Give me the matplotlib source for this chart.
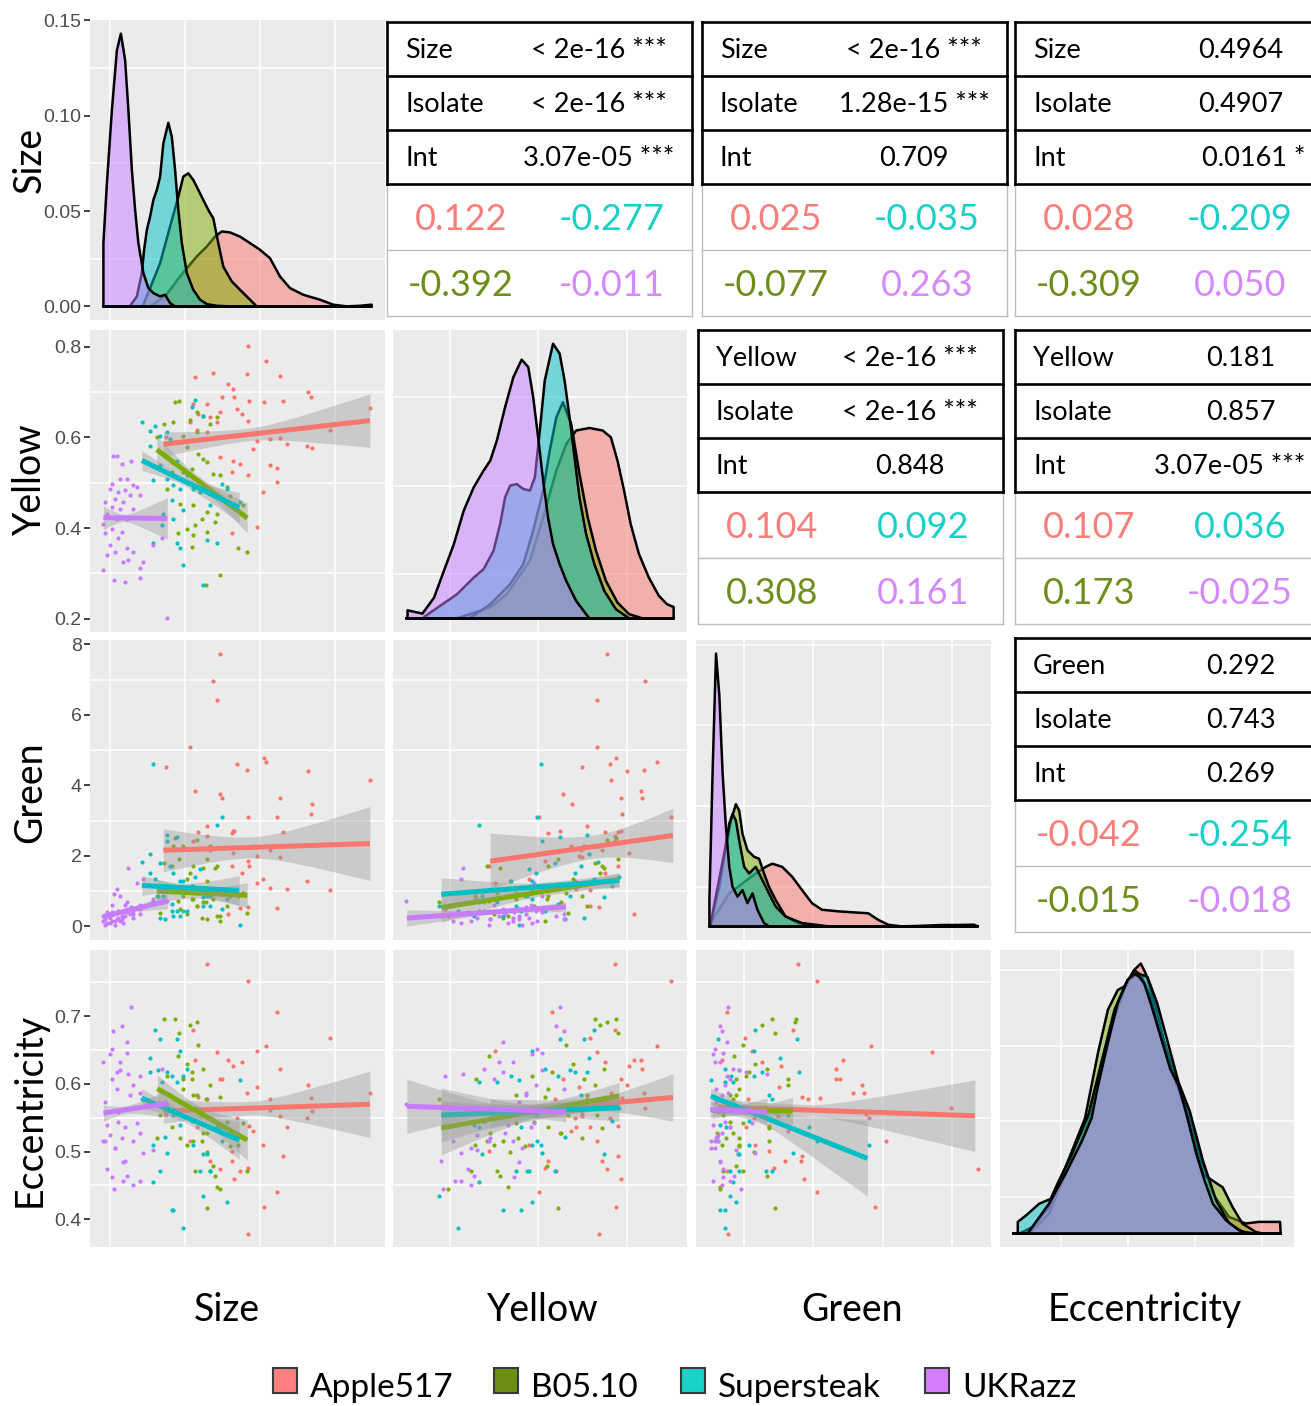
import numpy as np
import matplotlib
matplotlib.use("Agg")
import matplotlib.pyplot as plt
from matplotlib.patches import Rectangle
from matplotlib.colors import to_rgba

W, H = 1311, 1406
FONT = ["Lato", "DejaVu Sans"]

variables = ["Size", "Yellow", "Green", "Eccentricity"]
groups = ["Apple517", "B05.10", "Supersteak", "UKRazz"]
point_colors = {"Apple517": "#F8766D", "B05.10": "#7CAE00", "Supersteak": "#00BFC4", "UKRazz": "#C77CFF"}
text_colors = {"Apple517": "#F87E7B", "B05.10": "#6E8E1C", "Supersteak": "#1CCFC7", "UKRazz": "#D58AFC"}
legend_colors = {"Apple517": "#FF7F7F", "B05.10": "#6B8E13", "Supersteak": "#16D4C8", "UKRazz": "#D67DFF"}

size = {
    "Apple517": [65.3, 72.4, 51.3, 44.0, 64.7, 78.0, 57.3, 59.1, 54.7, 59.7, 79.1, 43.3, 48.7, 65.7, 71.6, 89.3,
                 90.3, 114.0, 54.0, 60.7, 62.7, 45.3, 50.0, 65.3, 42.0, 52.7, 98.0, 68.7, 74.0, 80.7, 88.7, 67.3,
                 78.0, 59.1, 54.0, 62.0, 74.0, 76.7, 58.7, 65.3, 76.7, 71.3, 68.7, 58.7, 48.7, 44.7, 90.7, 32.4],
    "B05.10": [36.0, 37.7, 31.6, 35.3, 42.0, 44.7, 47.3, 50.0, 52.7, 40.7, 45.3, 47.3, 48.7, 42.7, 39.3, 51.3,
               54.0, 38.0, 43.3, 48.7, 52.7, 46.7, 52.0, 37.3, 40.7, 44.0, 43.3, 48.7, 42.7, 54.0, 48.3, 61.3,
               64.7, 32.7, 34.7, 44.7, 39.3, 30.0, 63.3, 56.7, 58.0, 28.7],
    "Supersteak": [22.7, 26.0, 28.0, 30.0, 32.7, 34.0, 26.0, 29.3, 32.0, 34.7, 36.7, 30.0, 27.3, 32.7, 35.3, 38.0,
                   40.7, 43.3, 47.3, 42.7, 46.0, 50.0, 54.7, 56.7, 62.0, 54.7, 34.7, 31.3, 35.3, 30.7, 36.7, 38.0,
                   39.3, 47.3, 48.7, 52.7, 44.0, 27.3, 50.0, 39.3],
    "UKRazz": [11.3, 12.7, 18.3, 14.7, 10.7, 14.0, 16.7, 19.3, 10.0, 13.3, 16.0, 20.7, 18.0, 22.0, 12.0, 15.3,
               8.0, 10.7, 14.0, 19.3, 8.7, 12.7, 16.7, 22.0, 7.3, 10.7, 14.7, 8.0, 13.3, 10.0, 16.7, 12.0,
               19.3, 8.7, 15.3, 17.3, 23.3, 7.3, 22.0, 11.6, 16.1, 22.0, 27.3, 30.7, 32.9],
}
yellow = {
    "Apple517": [0.801, 0.769, 0.741, 0.733, 0.739, 0.736, 0.717, 0.706, 0.688, 0.688, 0.681, 0.673, 0.673, 0.681,
                 0.677, 0.700, 0.690, 0.664, 0.655, 0.662, 0.651, 0.651, 0.644, 0.637, 0.633, 0.633, 0.617, 0.593,
                 0.596, 0.585, 0.582, 0.574, 0.598, 0.549, 0.556, 0.541, 0.538, 0.532, 0.523, 0.516, 0.501, 0.479,
                 0.402, 0.388, 0.611, 0.617, 0.576, 0.600],
    "B05.10": [0.677, 0.681, 0.629, 0.633, 0.639, 0.655, 0.648, 0.629, 0.644, 0.578, 0.563, 0.552, 0.545, 0.530,
               0.523, 0.520, 0.516, 0.453, 0.450, 0.435, 0.432, 0.421, 0.413, 0.388, 0.399, 0.406, 0.384, 0.391,
               0.358, 0.296, 0.274, 0.356, 0.347, 0.486, 0.523, 0.611, 0.604, 0.567, 0.450, 0.490, 0.470, 0.600],
    "Supersteak": [0.635, 0.615, 0.626, 0.604, 0.611, 0.596, 0.582, 0.571, 0.560, 0.545, 0.549, 0.538, 0.505,
                   0.508, 0.494, 0.486, 0.516, 0.486, 0.648, 0.666, 0.479, 0.475, 0.497, 0.486, 0.457, 0.461,
                   0.461, 0.432, 0.421, 0.406, 0.366, 0.355, 0.318, 0.274, 0.373, 0.366, 0.683, 0.366, 0.450, 0.439],
    "UKRazz": [0.558, 0.558, 0.549, 0.541, 0.497, 0.508, 0.508, 0.494, 0.486, 0.479, 0.483, 0.490, 0.472, 0.472,
               0.464, 0.457, 0.457, 0.446, 0.442, 0.442, 0.431, 0.421, 0.421, 0.424, 0.410, 0.399, 0.391, 0.388,
               0.377, 0.362, 0.355, 0.347, 0.347, 0.340, 0.325, 0.329, 0.325, 0.307, 0.311, 0.285, 0.280, 0.289,
               0.362, 0.377, 0.201],
}
green = {
    "Apple517": [3.10, 4.67, 6.97, 3.85, 4.45, 3.65, 0.35, 2.08, 3.64, 2.72, 2.67, 2.41, 2.56, 1.71, 4.79, 4.40,
                 3.18, 4.15, 7.74, 4.62, 1.52, 2.67, 2.18, 0.54, 5.09, 6.43, 1.02, 2.00, 2.18, 1.07, 1.29, 2.27,
                 1.97, 2.72, 3.76, 0.51, 1.10, 0.51, 2.65, 1.85, 3.10, 1.33, 1.24, 1.71, 2.84, 0.58, 3.46, 4.52],
    "B05.10": [2.51, 1.90, 1.80, 2.27, 1.52, 2.46, 1.66, 2.27, 1.71, 1.33, 0.96, 0.68, 1.90, 1.15, 0.86, 0.77,
               0.16, 0.49, 0.77, 1.29, 0.30, 0.25, 1.66, 0.72, 0.35, 0.96, 1.71, 0.21, 0.77, 0.30, 0.68, 0.86,
               0.39, 1.05, 1.71, 0.58, 2.27, 0.39, 0.96, 0.58, 0.86, 0.86],
    "Supersteak": [1.82, 2.04, 1.33, 0.25, 2.60, 1.71, 1.52, 0.86, 0.22, 0.63, 2.53, 1.80, 4.62, 2.41, 1.52, 1.29,
                   0.44, 1.15, 0.82, 1.15, 1.62, 0.86, 3.10, 0.77, 0.04, 0.49, 0.44, 0.86, 0.30, 0.68, 0.44, 0.30,
                   0.44, 0.58, 0.86, 2.88, 1.40, 0.68, 0.58, 1.29],
    "UKRazz": [0.35, 0.20, 0.55, 0.30, 0.15, 0.86, 0.40, 0.45, 0.10, 0.25, 0.60, 1.24, 0.35, 0.55, 0.05, 0.30,
               0.20, 0.40, 0.15, 0.25, 0.10, 1.05, 0.50, 0.35, 0.30, 0.60, 0.20, 0.05, 0.45, 0.25, 0.70, 0.15,
               0.35, 0.40, 0.10, 1.66, 1.33, 0.15, 0.60, 0.91, 0.30, 0.50, 0.77, 0.68, 0.72],
}
ecc = {
    "Apple517": [0.752, 0.656, 0.564, 0.636, 0.586, 0.622, 0.636, 0.626, 0.607, 0.459, 0.493, 0.680, 0.778, 0.538,
                 0.418, 0.598, 0.579, 0.586, 0.474, 0.549, 0.632, 0.581, 0.486, 0.379, 0.515, 0.647, 0.668, 0.595,
                 0.561, 0.537, 0.549, 0.530, 0.552, 0.527, 0.607, 0.472, 0.578, 0.707, 0.486, 0.476, 0.440, 0.510,
                 0.649, 0.501, 0.578, 0.537, 0.560, 0.555],
    "B05.10": [0.696, 0.675, 0.696, 0.554, 0.687, 0.691, 0.622, 0.598, 0.535, 0.629, 0.658, 0.527, 0.416, 0.617,
               0.593, 0.479, 0.581, 0.520, 0.583, 0.500, 0.447, 0.515, 0.464, 0.641, 0.510, 0.472, 0.515, 0.527,
               0.607, 0.445, 0.578, 0.510, 0.472, 0.612, 0.537, 0.583, 0.607, 0.554, 0.542, 0.544, 0.508, 0.520],
    "Supersteak": [0.578, 0.639, 0.679, 0.666, 0.617, 0.583, 0.617, 0.620, 0.522, 0.612, 0.666, 0.472, 0.510,
                   0.498, 0.554, 0.649, 0.622, 0.510, 0.496, 0.545, 0.472, 0.472, 0.515, 0.426, 0.606, 0.537,
                   0.413, 0.564, 0.414, 0.603, 0.603, 0.540, 0.387, 0.435, 0.496, 0.537, 0.565, 0.455, 0.472, 0.612],
    "UKRazz": [0.678, 0.593, 0.713, 0.686, 0.652, 0.620, 0.646, 0.598, 0.645, 0.559, 0.537, 0.542, 0.583, 0.586,
               0.505, 0.484, 0.573, 0.462, 0.632, 0.515, 0.540, 0.617, 0.662, 0.527, 0.633, 0.607, 0.520, 0.515,
               0.544, 0.525, 0.464, 0.505, 0.450, 0.474, 0.457, 0.615, 0.498, 0.515, 0.457, 0.445, 0.486, 0.612,
               0.503, 0.622, 0.570],
}
obs = {"Size": size, "Yellow": yellow, "Green": green, "Eccentricity": ecc}

# ---- density curves on the diagonal (x, height) ----
size_dens_x = {
    "Apple517": [26, 32, 38, 44.7, 48.7, 52, 54.7, 58, 62, 66, 70, 74, 78, 82, 87.3, 94, 99.3, 104.7, 110, 114.7],
    "B05.10": [23.3, 26.0, 30.0, 34.0, 37.3, 39.3, 41.3, 43.3, 45.3, 47.3, 49.3, 51.3, 53.3, 55.3, 58.7, 62.0, 64.7, 68.7],
    "Supersteak": [18.0, 20.7, 22.7, 23.6, 24.7, 26.0, 27.3, 28.7, 30.0, 31.3, 33.3, 34.7, 36.0, 37.3, 38.7, 40.7,
                   43.3, 46.0, 48.7, 52.7, 58.0],
    "UKRazz": [7.3, 8.7, 10.7, 12.7, 14.3, 16.0, 17.3, 18.7, 20.0, 21.3, 23.3, 25.3, 27.3, 30.0, 32.0, 34.0, 36.0],
}
size_dens_y = {
    "Apple517": [0, 0.0052, 0.0157, 0.0262, 0.0314, 0.0366, 0.0393, 0.0388, 0.0366, 0.0332, 0.0297, 0.0253, 0.0157,
                 0.0096, 0.0061, 0.0035, 0.0009, 0, 0.0003, 0.0009],
    "B05.10": [0.0009, 0.0096, 0.0227, 0.0419, 0.0576, 0.0681, 0.0698, 0.0663, 0.0611, 0.0558, 0.0506, 0.0462,
               0.0332, 0.0209, 0.0131, 0.0087, 0.0052, 0],
    "Supersteak": [0.0003, 0.0052, 0.0175, 0.0297, 0.0401, 0.0471, 0.0558, 0.0611, 0.068, 0.0855, 0.0963, 0.0890,
                   0.0716, 0.0506, 0.0332, 0.0175, 0.0087, 0.0035, 0.0012, 0.0003, 0],
    "UKRazz": [0.0332, 0.0646, 0.103, 0.1344, 0.1431, 0.1291, 0.103, 0.0716, 0.0506, 0.0332, 0.0175, 0.0096,
               0.007, 0.0052, 0.0061, 0.0017, 0],
}
yellow_dens_x = {
    "Apple517": [0.3161, 0.391, 0.4285, 0.4809, 0.5109, 0.5408, 0.5633, 0.5858, 0.6157, 0.6457, 0.6644, 0.6794,
                 0.6943, 0.7093, 0.728, 0.7505, 0.773, 0.7917, 0.8066],
    "B05.10": [0.3461, 0.391, 0.436, 0.4659, 0.4884, 0.5109, 0.5259, 0.5408, 0.5558, 0.5745, 0.5932, 0.612,
               0.6307, 0.6532, 0.6794, 0.7056, 0.7356],
    "Supersteak": [0.2412, 0.3161, 0.3536, 0.376, 0.3985, 0.4135, 0.4247, 0.436, 0.4509, 0.4659, 0.4809, 0.4921,
                   0.5034, 0.5146, 0.5333, 0.5483, 0.5595, 0.5708, 0.582, 0.5932, 0.6082, 0.627, 0.6494, 0.6757, 0.7056],
    "UKRazz": [0.2037, 0.2375, 0.2637, 0.2861, 0.3086, 0.331, 0.3536, 0.376, 0.391, 0.406, 0.4247, 0.4434, 0.4622,
               0.4772, 0.4884, 0.4996, 0.511, 0.522, 0.5334, 0.5483, 0.5633, 0.5858, 0.6082, 0.6157],
}
yellow_dens_y = {
    "Apple517": [0, 0.039, 0.088, 0.209, 0.367, 0.538, 0.635, 0.684, 0.693, 0.684, 0.659, 0.574, 0.465, 0.343,
                 0.234, 0.148, 0.082, 0.051, 0.041],
    "B05.10": [0.002, 0.051, 0.124, 0.197, 0.319, 0.465, 0.611, 0.732, 0.787, 0.708, 0.526, 0.367, 0.246, 0.136,
               0.057, 0.015, 0],
    "Supersteak": [0.005, 0.088, 0.148, 0.179, 0.246, 0.343, 0.440, 0.483, 0.489, 0.471, 0.465, 0.513, 0.684,
                   0.866, 1.0, 0.964, 0.866, 0.732, 0.586, 0.440, 0.307, 0.197, 0.100, 0.033, 0],
    "UKRazz": [0.029, 0.017, 0.075, 0.173, 0.270, 0.392, 0.477, 0.538, 0.574, 0.647, 0.769, 0.878, 0.942, 0.915,
               0.805, 0.659, 0.501, 0.367, 0.270, 0.197, 0.136, 0.063, 0.015, 0],
}
green_dens_x = {
    "Apple517": [0.0191, 0.573, 1.3371, 1.6237, 1.8147, 2.1013, 2.3878, 2.6743, 2.9608, 3.2474, 3.7249, 4.2025,
                 4.5845, 4.8711, 5.1576, 5.5396, 6.1127, 6.6858, 7.0678, 7.6409],
    "B05.10": [0.0191, 0.2865, 0.4775, 0.6208, 0.7641, 0.8596, 0.9551, 1.0984, 1.2894, 1.4327, 1.5759, 1.7192,
               1.9102, 2.1968, 2.5788, 3.2474],
    "Supersteak": [0.0191, 0.2388, 0.4297, 0.573, 0.6685, 0.7641, 0.8596, 1.0029, 1.1461, 1.3371, 1.4804, 1.6714,
                   1.9102, 2.1968, 2.6743, 3.4384],
    "UKRazz": [0.0, 0.0955, 0.191, 0.286, 0.382, 0.477, 0.573, 0.668, 0.812, 0.955, 1.098, 1.242, 1.385, 1.576, 1.72],
}
green_dens_y = {
    "Apple517": [0.01, 0.121, 0.194, 0.218, 0.230, 0.218, 0.182, 0.133, 0.085, 0.061, 0.055, 0.051, 0.048, 0.024,
                 0.006, 0.0, 0.002, 0.005, 0.005, 0.006],
    "B05.10": [0, 0.145, 0.291, 0.388, 0.448, 0.424, 0.339, 0.279, 0.255, 0.248, 0.194, 0.145, 0.097, 0.036,
               0.012, 0],
    "Supersteak": [0, 0.145, 0.269, 0.376, 0.412, 0.388, 0.315, 0.218, 0.194, 0.218, 0.182, 0.133, 0.073, 0.036,
                   0.012, 0],
    "UKRazz": [0.097, 0.582, 1.0, 0.848, 0.558, 0.364, 0.218, 0.145, 0.109, 0.133, 0.085, 0.121, 0.061, 0.012, 0],
}
ecc_dens_x = {
    "Apple517": [0.4028, 0.4321, 0.4566, 0.4762, 0.4909, 0.5055, 0.5251, 0.5447, 0.5594, 0.5692, 0.5765, 0.5888,
                 0.6034, 0.623, 0.6377, 0.6573, 0.6769, 0.7013, 0.7258, 0.7454, 0.7601, 0.7772],
    "B05.10": [0.3881, 0.4076, 0.4321, 0.4566, 0.486, 0.5055, 0.5202, 0.5349, 0.5447, 0.5594, 0.5692, 0.5839,
               0.5985, 0.6132, 0.6255, 0.6426, 0.6622, 0.6769, 0.6915, 0.7062, 0.7209, 0.7405, 0.7503],
    "Supersteak": [0.3856, 0.3979, 0.4174, 0.4346, 0.4468, 0.4664, 0.4909, 0.5104, 0.53, 0.5496, 0.5643, 0.579,
                   0.5936, 0.6083, 0.6255, 0.6426, 0.6622, 0.6818, 0.7013, 0.7209, 0.7405],
    "UKRazz": [0.4003, 0.4321, 0.4566, 0.4811, 0.4958, 0.5055, 0.5202, 0.5349, 0.5496, 0.5594, 0.5667, 0.5741,
               0.5839, 0.5985, 0.6132, 0.6255, 0.6377, 0.6524, 0.6646, 0.6769, 0.6964, 0.716, 0.7307],
}
ecc_dens_y = {
    "Apple517": [0, 0.073, 0.220, 0.317, 0.415, 0.549, 0.768, 0.902, 0.976, 1.0, 0.963, 0.866, 0.720, 0.561,
                 0.463, 0.293, 0.146, 0.061, 0.037, 0.043, 0.043, 0.043],
    "B05.10": [0, 0.024, 0.098, 0.244, 0.427, 0.671, 0.829, 0.902, 0.915, 0.976, 0.957, 0.878, 0.732, 0.610,
               0.537, 0.415, 0.220, 0.195, 0.171, 0.098, 0.037, 0.006, 0],
    "Supersteak": [0.043, 0.067, 0.110, 0.128, 0.195, 0.293, 0.439, 0.634, 0.829, 0.939, 0.963, 0.951, 0.854,
                   0.720, 0.561, 0.451, 0.268, 0.122, 0.037, 0.006, 0],
    "UKRazz": [0, 0.110, 0.220, 0.341, 0.427, 0.549, 0.707, 0.854, 0.939, 0.963, 0.951, 0.927, 0.854, 0.732,
               0.610, 0.549, 0.439, 0.293, 0.195, 0.110, 0.049, 0.012, 0],
}
dens_x = {"Size": size_dens_x, "Yellow": yellow_dens_x, "Green": green_dens_x, "Eccentricity": ecc_dens_x}
dens_y = {"Size": size_dens_y, "Yellow": yellow_dens_y, "Green": green_dens_y, "Eccentricity": ecc_dens_y}

# ---- linear fits: x start, x end, y start, y end, band half-width (start, narrowest, end) ----
fit_yellow_size = {
    "Apple517": [31.3, 114.0, 0.585, 0.637, 0.027, 0.014, 0.059],
    "B05.10": [28.7, 64.9, 0.573, 0.422, 0.030, 0.011, 0.033],
    "Supersteak": [22.7, 61.7, 0.549, 0.445, 0.022, 0.010, 0.033],
    "UKRazz": [7.3, 32.9, 0.423, 0.421, 0.026, 0.008, 0.046],
}
fit_green_size = {
    "Apple517": [31.3, 114.0, 2.16, 2.35, 0.61, 0.30, 1.05],
    "B05.10": [28.7, 64.9, 1.00, 0.88, 0.33, 0.14, 0.36],
    "Supersteak": [22.7, 61.7, 1.16, 1.02, 0.28, 0.12, 0.42],
    "UKRazz": [7.3, 32.9, 0.28, 0.72, 0.10, 0.05, 0.22],
}
fit_green_yellow = {
    "Apple517": [0.391, 0.805, 1.85, 2.58, 0.80, 0.33, 0.77],
    "B05.10": [0.280, 0.683, 0.535, 1.33, 0.42, 0.12, 0.20],
    "Supersteak": [0.280, 0.683, 0.91, 1.30, 0.47, 0.12, 0.19],
    "UKRazz": [0.202, 0.562, 0.235, 0.555, 0.23, 0.05, 0.14],
}
fit_ecc_size = {
    "Apple517": [31.3, 114.0, 0.560, 0.570, 0.018, 0.010, 0.049],
    "B05.10": [28.9, 64.9, 0.593, 0.517, 0.020, 0.010, 0.030],
    "Supersteak": [22.7, 61.7, 0.579, 0.517, 0.014, 0.008, 0.028],
    "UKRazz": [7.3, 32.9, 0.557, 0.571, 0.012, 0.006, 0.020],
}
fit_ecc_yellow = {
    "Apple517": [0.391, 0.805, 0.556, 0.580, 0.022, 0.010, 0.035],
    "B05.10": [0.280, 0.683, 0.535, 0.582, 0.040, 0.010, 0.020],
    "Supersteak": [0.280, 0.683, 0.554, 0.565, 0.040, 0.010, 0.020],
    "UKRazz": [0.202, 0.562, 0.567, 0.559, 0.040, 0.008, 0.015],
}
fit_ecc_green = {
    "Apple517": [0.25, 7.66, 0.566, 0.553, 0.012, 0.008, 0.053],
    "B05.10": [0.08, 2.40, 0.561, 0.560, 0.012, 0.006, 0.020],
    "Supersteak": [0.04, 4.56, 0.582, 0.490, 0.012, 0.008, 0.056],
    "UKRazz": [0.02, 1.66, 0.562, 0.559, 0.012, 0.006, 0.020],
}
fits = {("Yellow", "Size"): fit_yellow_size, ("Green", "Size"): fit_green_size,
        ("Green", "Yellow"): fit_green_yellow, ("Eccentricity", "Size"): fit_ecc_size,
        ("Eccentricity", "Yellow"): fit_ecc_yellow, ("Eccentricity", "Green"): fit_ecc_green}

# ---- upper triangle: p-values and per-isolate correlations ----
pvals = {
    ("Size", "Yellow"): ["< 2e-16 ***", "< 2e-16 ***", "3.07e-05 ***"],
    ("Size", "Green"): ["< 2e-16 ***", "1.28e-15 ***", "0.709"],
    ("Size", "Eccentricity"): ["0.4964", "0.4907", "0.0161 *"],
    ("Yellow", "Green"): ["< 2e-16 ***", "< 2e-16 ***", "0.848"],
    ("Yellow", "Eccentricity"): ["0.181", "0.857", "3.07e-05 ***"],
    ("Green", "Eccentricity"): ["0.292", "0.743", "0.269"],
}
corrs = {  # Apple517, B05.10, Supersteak, UKRazz
    ("Size", "Yellow"): [0.122, -0.392, -0.277, -0.011],
    ("Size", "Green"): [0.025, -0.077, -0.035, 0.263],
    ("Size", "Eccentricity"): [0.028, -0.309, -0.209, 0.050],
    ("Yellow", "Green"): [0.104, 0.308, 0.092, 0.161],
    ("Yellow", "Eccentricity"): [0.107, 0.173, 0.036, -0.025],
    ("Green", "Eccentricity"): [-0.042, -0.015, -0.254, -0.018],
}

# axis decorations
left_ticks = {"Size": [0.00, 0.05, 0.10, 0.15], "Yellow": [0.2, 0.4, 0.6, 0.8],
              "Green": [0, 2, 4, 6, 8], "Eccentricity": [0.4, 0.5, 0.6, 0.7]}
tick_fmt = {"Size": "{:.2f}", "Yellow": "{:.1f}", "Green": "{:.0f}", "Eccentricity": "{:.1f}"}
grid_at = {"Size": [10, 40, 70, 100], "Yellow": [0.3, 0.5, 0.7],
           "Green": [1, 3, 5, 7], "Eccentricity": [0.45, 0.55, 0.65, 0.75]}
diag_grid = {"Size": [0.025, 0.075, 0.125], "Yellow": [0.161, 0.483, 0.805],
             "Green": [0.145, 0.442, 0.739, 1.03], "Eccentricity": [0.134, 0.415, 0.695, 0.976]}

# pixel layout
col_x = [90, 393, 696, 1000]
col_w = [295, 294, 295, 294]
row_y = [20, 330, 640, 950]
row_h = [300, 302, 300, 297]


def expand(lo, hi, f=0.05):
    d = (hi - lo) * f
    return lo - d, hi + d


limits = {}
dens_range = {}
for v in variables:
    vals = [x for g in groups for x in obs[v][g]] + [x for g in groups for x in dens_x[v][g]]
    dens_range[v] = (min(vals), max(vals))
    limits[v] = expand(min(vals), max(vals))

fig = plt.figure(figsize=(W / 100, H / 100), dpi=100)


def panel(r, c):
    ax = fig.add_axes([col_x[c] / W, 1 - (row_y[r] + row_h[r]) / H, col_w[c] / W, row_h[r] / H])
    ax.set_facecolor("#EBEBEB")
    for s in ax.spines.values():
        s.set_visible(False)
    ax.set_xticks([])
    ax.set_yticks([])
    return ax


def style_left(ax, v):
    t = left_ticks[v]
    ax.set_yticks(t)
    ax.set_yticklabels([tick_fmt[v].format(x) for x in t], family=["Liberation Sans Narrow", "Liberation Sans"],
                       fontsize=14, color="#4D4D4D")
    ax.tick_params(axis="y", length=4, width=1.3, color="#333333", pad=2)


for r, rv in enumerate(variables):
    for c, cv in enumerate(variables):
        if c > r:
            continue
        ax = panel(r, c)
        ax.set_xlim(*limits[cv])
        for gx in grid_at[cv]:
            ax.axvline(gx, color="white", lw=1.1, zorder=0.5)
        if r == c:
            ymax = max(max(dens_y[cv][g]) for g in groups)
            ax.set_ylim(-0.05 * ymax, 1.05 * ymax)
            for gy in diag_grid[cv]:
                ax.axhline(gy, color="white", lw=1.1, zorder=0.5)
            lo, hi = dens_range[cv]
            for i, g in enumerate(groups):
                xs = list(dens_x[cv][g])
                ys = list(dens_y[cv][g])
                px = [xs[0]] + xs + [hi, hi, lo, lo]
                py = [0] + ys + [ys[-1] if xs[-1] >= hi else 0, 0, 0, 0]
                ax.fill(px, py, facecolor=to_rgba(point_colors[g], 0.5), edgecolor="black", lw=1.8,
                        joinstyle="round", zorder=2 + i)
            if c == 0:
                style_left(ax, "Size")
        else:
            ax.set_ylim(*limits[rv])
            for gy in grid_at[rv]:
                ax.axhline(gy, color="white", lw=1.1, zorder=0.5)
            for g in groups:
                ax.scatter(obs[cv][g], obs[rv][g], s=9, color=point_colors[g], lw=0, zorder=2)
            for i, g in enumerate(groups):
                x0, x1, y0, y1, w0, wm, w1 = fits[(rv, cv)][g]
                xm = min(max(np.mean(obs[cv][g]), x0 + 1e-3 * (x1 - x0)), x1 - 1e-3 * (x1 - x0))
                xs = np.linspace(x0, x1, 120)
                ys = y0 + (y1 - y0) * (xs - x0) / (x1 - x0)
                left = np.sqrt(wm ** 2 + (w0 ** 2 - wm ** 2) * ((xm - xs) / (xm - x0)) ** 2)
                right = np.sqrt(wm ** 2 + (w1 ** 2 - wm ** 2) * ((xs - xm) / (x1 - xm)) ** 2)
                w = np.where(xs < xm, left, right)
                ax.fill_between(xs, ys - w, ys + w, color="#999999", alpha=0.4, lw=0, zorder=3 + 2 * i)
                ax.plot([x0, x1], [y0, y1], color=point_colors[g], lw=3.6, solid_capstyle="butt",
                        zorder=4 + 2 * i)
            if c == 0:
                style_left(ax, rv)

# overlay in pixel coordinates for tables, labels and legend
ov = fig.add_axes([0, 0, 1, 1], zorder=10)
ov.set_xlim(0, W)
ov.set_ylim(H, 0)
ov.axis("off")
ov.patch.set_alpha(0)

table_left = {(0, 1): 387, (0, 2): 702, (0, 3): 1015, (1, 2): 698, (1, 3): 1015, (2, 3): 1015}
table_top = {0: 22, 1: 330, 2: 638}
row_hgt, corr_hgt = 54, 66
for (r, c), left in table_left.items():
    key = (variables[r], variables[c])
    top = table_top[r]
    right = left + 305 if c < 3 else W + 10
    # correlation block (thin grey rules)
    ctop = top + 3 * row_hgt
    for yy in [ctop + corr_hgt, ctop + 2 * corr_hgt]:
        ov.plot([left, right], [yy, yy], color="#BDBDBD", lw=1.0, zorder=1)
    for xx in [left, right]:
        ov.plot([xx, xx], [ctop, ctop + 2 * corr_hgt], color="#BDBDBD", lw=1.0, zorder=1)
    # p-value block (heavy black rules)
    for k in range(4):
        ov.plot([left, right], [top + k * row_hgt] * 2, color="black", lw=1.9, zorder=2,
                solid_capstyle="projecting")
    for xx in [left, right]:
        ov.plot([xx, xx], [top, top + 3 * row_hgt], color="black", lw=1.9, zorder=2)
    labels = [variables[r], "Isolate", "Int"]
    for k, (lab, val) in enumerate(zip(labels, pvals[key])):
        yc = top + k * row_hgt + row_hgt / 2 + 1
        ov.text(left + 18, yc, lab, ha="left", va="center", fontsize=19.5, family=FONT, color="black")
        if c == 3 and len(val) >= 8:
            ov.text(1305, yc, val, ha="right", va="center", fontsize=19.5, family=FONT, color="black")
        else:
            xc = left + (226 if c == 3 else 212)
            ov.text(xc, yc, val, ha="center", va="center", fontsize=19.5, family=FONT, color="black")
    vals = dict(zip(groups, corrs[key]))
    spots = {"Apple517": (74, 0), "Supersteak": (225, 0), "B05.10": (74, 1), "UKRazz": (225, 1)}
    for g, (dx, k) in spots.items():
        ov.text(left + dx, ctop + k * corr_hgt + corr_hgt / 2 + 2, "{:.3f}".format(vals[g]), ha="center",
                va="center", fontsize=26, family=FONT, color=text_colors[g])

# variable labels
row_label_y = [160, 479, 792, 1110]
col_label_x = [227, 543, 852, 1145]
for v, yc, xc in zip(variables, row_label_y, col_label_x):
    ov.text(30, yc, v, rotation=90, ha="center", va="center", fontsize=27, family=FONT, color="black")
    ov.text(xc, 1310, v, ha="center", va="center", fontsize=27, family=FONT, color="black")

# legend
legend_x = [273, 494, 681, 925]
for g, lx in zip(groups, legend_x):
    ov.add_patch(Rectangle((lx, 1368), 24, 25, facecolor=legend_colors[g], edgecolor="#3A3A3A", lw=1.5))
    ov.text(lx + 37, 1388, g, ha="left", va="center", fontsize=24, family=FONT, color="black")

fig.savefig("out.png", dpi=100, facecolor="white")
